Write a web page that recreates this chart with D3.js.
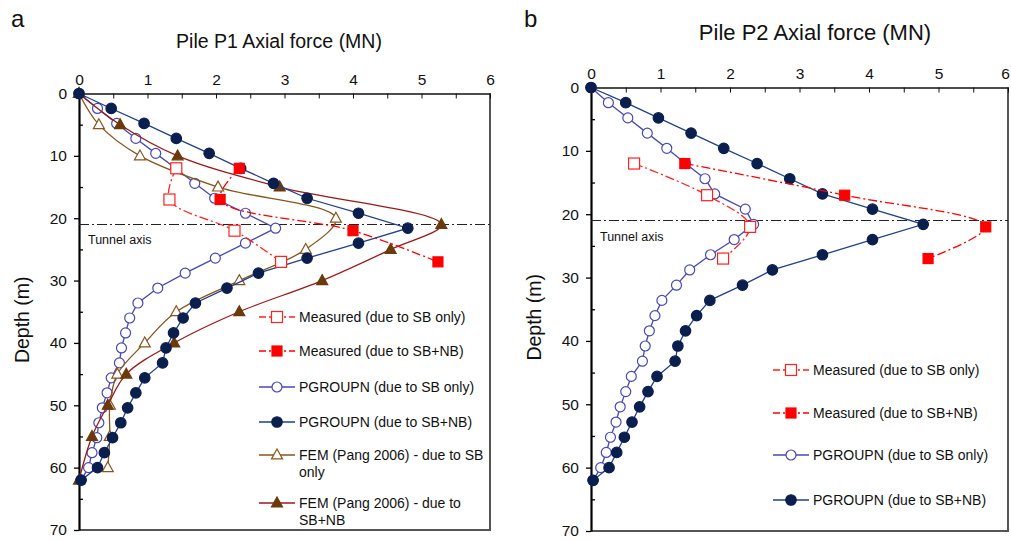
<!DOCTYPE html>
<html>
<head>
<meta charset="utf-8">
<script src="https://cdn.jsdelivr.net/npm/d3@7"></script>
<style>
  body { margin: 0; background: #fff; }
  svg { font-family: "Liberation Sans", Arial, sans-serif; }
  .tick text { font-size: 15.5px; fill: #111; }
</style>
</head>
<body>
<svg id="chart" width="1011" height="541"></svg>
<script>
// PGROUPN nodes (m)
const pgDepth = [0, 2.4, 4.8, 7.2, 9.6, 12, 14.4, 16.8, 19.2, 21.6, 24, 26.4, 28.8, 31.2, 33.6,
  36, 38.4, 40.8, 43.2, 45.6, 48, 50.4, 52.8, 55.2, 57.6, 60, 62];
const measDepth = [12, 17, 22, 27];
const femSbDepth = [0, 5, 10, 15, 20, 25, 30, 35, 40, 45, 50, 55, 60];
const femNbDepth = [0, 5, 10, 15, 21, 25, 30, 35, 40, 45, 50, 55, 62];

// Pile P1
const p1MeasSb = [1.42, 1.32, 2.27, 2.95];
const p1MeasNb = [2.34, 2.06, 4.00, 5.24];
const p1PgSb = [0, 0.27, 0.55, 0.83, 1.12, 1.41, 1.69, 1.98, 2.43, 2.87, 2.43, 1.99, 1.55, 1.15, 0.86,
  0.74, 0.68, 0.62, 0.59, 0.47, 0.41, 0.34, 0.29, 0.26, 0.19, 0.14, 0.03];
const p1PgNb = [0, 0.47, 0.95, 1.42, 1.90, 2.36, 2.84, 3.33, 4.08, 4.80, 4.08, 3.33, 2.62, 2.16, 1.70,
  1.52, 1.38, 1.27, 1.22, 0.96, 0.83, 0.71, 0.61, 0.49, 0.37, 0.27, 0.03];
const p1FemSb = [0, 0.29, 0.89, 2.03, 3.75, 3.31, 2.34, 1.42, 0.96, 0.56, 0.45, 0.45, 0.42];
const p1FemNb = [0, 0.60, 1.44, 2.93, 5.29, 4.55, 3.55, 2.34, 1.39, 0.69, 0.42, 0.19, 0];

// Pile P2
const p2MeasSb = [0.62, 1.67, 2.29, 1.90];
const p2MeasNb = [1.35, 3.65, 5.68, 4.85];
const p2PgSb = [0, 0.25, 0.53, 0.81, 1.09, 1.36, 1.64, 1.78, 2.22, 2.34, 2.06, 1.72, 1.42, 1.23, 1.02,
  0.92, 0.84, 0.78, 0.74, 0.58, 0.50, 0.42, 0.36, 0.28, 0.22, 0.14, 0.03];
const p2PgNb = [0, 0.50, 0.97, 1.44, 1.91, 2.39, 2.86, 3.33, 4.05, 4.78, 4.05, 3.33, 2.61, 2.18, 1.71,
  1.52, 1.36, 1.25, 1.21, 0.95, 0.82, 0.70, 0.59, 0.48, 0.37, 0.26, 0.03];

const yTicks = [0, 10, 20, 30, 40, 50, 60, 70];
const tunnelDepth = 21;

// series styles
const styles = {
  measSb: { color: '#FF2020', marker: 'square', fill: '#fff', size: 11, dash: '9,3,2,3', curve: true },
  measNb: { color: '#FF0000', marker: 'square', fill: '#FF0000', size: 10, dash: '9,3,2,3', curve: true },
  pgSb: { color: '#4848B4', marker: 'circle', fill: '#fff', size: 10, line: '#4848B4' },
  pgNb: { color: '#0B1F4F', marker: 'circle', fill: '#0B1F4F', size: 10.5, line: '#22408A' },
  femSb: { color: '#87561F', marker: 'triangle', fill: '#fff', size: 11, line: '#87561F', curve: true },
  femNb: { color: '#6B3A0C', marker: 'triangle', fill: '#6B3A0C', size: 11, line: '#9A1A1A', curve: true }
};

const svg = d3.select('#chart');

function drawMarker(g, type, st, cx, cy) {
  const s = st.size;
  let m;
  if (type === 'circle') {
    m = g.append('circle').attr('cx', cx).attr('cy', cy).attr('r', s / 2);
  } else if (type === 'square') {
    m = g.append('rect').attr('x', cx - s / 2).attr('y', cy - s / 2).attr('width', s).attr('height', s);
  } else {
    const h = s * 0.9;
    m = g.append('path').attr('d', `M${cx},${cy - h * 0.6}L${cx + s / 2},${cy + h * 0.4}L${cx - s / 2},${cy + h * 0.4}Z`);
  }
  m.attr('fill', st.fill).attr('stroke', st.color).attr('stroke-width', 1.2);
}

function drawPanel(p) {
  const x = d3.scaleLinear().domain([0, 6]).range([p.x0, p.x1]);
  const y = d3.scaleLinear().domain([0, 70]).range([p.y0, p.y1]);

  // right + bottom frame
  svg.append('path')
    .attr('d', `M${p.x0},${p.y1}H${p.x1}V${p.y0}`)
    .attr('fill', 'none').attr('stroke', '#555').attr('stroke-width', 2);

  // top axis
  const top = svg.append('g').attr('transform', `translate(0,${p.y0})`)
    .call(d3.axisTop(x).tickValues(d3.range(0, 6.01, 0.5)).tickSizeInner(-5).tickSizeOuter(0)
      .tickPadding(9).tickFormat(d => Number.isInteger(d) ? d : ''));
  top.select('.domain').attr('stroke', '#111').attr('stroke-width', 1.6);
  top.selectAll('.tick line').attr('stroke', '#111');
  if (p.lastTickShift) {
    top.selectAll('.tick text').filter(d => d === 6).attr('dx', p.lastTickShift);
  }

  // left axis: major outward, minor inward
  const left = svg.append('g').attr('transform', `translate(${p.x0},0)`)
    .call(d3.axisLeft(y).tickValues(yTicks).tickSizeInner(5).tickSizeOuter(0).tickPadding(7));
  left.select('.domain').attr('stroke', '#000').attr('stroke-width', 2.2);
  left.selectAll('.tick line').attr('stroke', '#000').attr('stroke-width', 1.3);
  const minor = svg.append('g').attr('transform', `translate(${p.x0},0)`)
    .call(d3.axisLeft(y).tickValues(d3.range(5, 70, 10)).tickSizeInner(-4).tickSizeOuter(0).tickFormat(''));
  minor.select('.domain').remove();
  minor.selectAll('.tick line').attr('stroke', '#000').attr('stroke-width', 1.3);

  // tunnel axis
  svg.append('line')
    .attr('x1', p.x0).attr('x2', p.x1).attr('y1', y(tunnelDepth)).attr('y2', y(tunnelDepth))
    .attr('stroke', '#222').attr('stroke-width', 1.1).attr('stroke-dasharray', '10,3,2,3');
  svg.append('text').attr('x', p.x0 + 9).attr('y', y(tunnelDepth) + 20)
    .attr('font-size', 12.5).attr('fill', '#111').text('Tunnel axis');

  // series
  p.series.forEach(s => {
    const st = styles[s.key];
    const pts = s.vals.map((v, i) => [x(v), y(s.depth[i])]);
    const line = d3.line().curve(st.curve ? d3.curveCatmullRom.alpha(0.5) : d3.curveLinear);
    svg.append('path').attr('d', line(pts)).attr('fill', 'none')
      .attr('stroke', st.line || st.color).attr('stroke-width', 1.3)
      .attr('stroke-dasharray', st.dash || null);
    const g = svg.append('g');
    pts.forEach(pt => drawMarker(g, st.marker, st, pt[0], pt[1]));
  });

  // legend
  p.legend.forEach(l => {
    const st = styles[l.key];
    svg.append('line').attr('x1', p.lx).attr('x2', p.lx + 36).attr('y1', l.y).attr('y2', l.y)
      .attr('stroke', st.line || st.color).attr('stroke-width', 1.3)
      .attr('stroke-dasharray', st.dash ? '7,3,2,3' : null);
    drawMarker(svg.append('g'), st.marker, st, p.lx + 18, l.y);
    const t = svg.append('text').attr('x', p.lx + 40).attr('y', l.y + 5)
      .attr('font-size', 14).attr('fill', '#111');
    l.text.forEach((line, i) => t.append('tspan').attr('x', p.lx + 40).attr('dy', i ? 16.5 : 0).text(line));
  });

  // titles
  svg.append('text').attr('x', p.titleX).attr('y', p.titleY)
    .attr('text-anchor', 'middle').attr('font-size', p.titleSize).attr('fill', '#111').text(p.title);
  svg.append('text').attr('x', p.letterX).attr('y', 27)
    .attr('font-size', 24).attr('fill', '#111').text(p.letter);
  svg.append('text')
    .attr('transform', `translate(${p.x0 - 50},${(p.y0 + p.y1) / 2 + 8}) rotate(-90)`)
    .attr('text-anchor', 'middle').attr('font-size', 19.5).attr('fill', '#111').text('Depth (m)');
}

drawPanel({
  x0: 79, x1: 490, y0: 93.5, y1: 530,
  title: 'Pile P1 Axial force (MN)', titleX: 279, titleY: 48, titleSize: 19.5, letter: 'a', letterX: 11,
  series: [
    { key: 'pgSb', depth: pgDepth, vals: p1PgSb },
    { key: 'femSb', depth: femSbDepth, vals: p1FemSb },
    { key: 'femNb', depth: femNbDepth, vals: p1FemNb },
    { key: 'pgNb', depth: pgDepth, vals: p1PgNb },
    { key: 'measSb', depth: measDepth, vals: p1MeasSb },
    { key: 'measNb', depth: measDepth, vals: p1MeasNb }
  ],
  lx: 259,
  legend: [
    { key: 'measSb', y: 317, text: ['Measured (due to SB only)'] },
    { key: 'measNb', y: 351, text: ['Measured (due to SB+NB)'] },
    { key: 'pgSb', y: 387, text: ['PGROUPN (due to SB only)'] },
    { key: 'pgNb', y: 422, text: ['PGROUPN (due to SB+NB)'] },
    { key: 'femSb', y: 455, text: ['FEM (Pang 2006) - due to SB', 'only'] },
    { key: 'femNb', y: 503, text: ['FEM (Pang 2006) - due to', 'SB+NB'] }
  ]
});

drawPanel({
  x0: 591, x1: 1008, y0: 87.5, y1: 531,
  title: 'Pile P2 Axial force (MN)', titleX: 815, titleY: 40, titleSize: 22, letter: 'b', letterX: 524,
  lastTickShift: -3,
  series: [
    { key: 'pgSb', depth: pgDepth, vals: p2PgSb },
    { key: 'pgNb', depth: pgDepth, vals: p2PgNb },
    { key: 'measSb', depth: measDepth, vals: p2MeasSb },
    { key: 'measNb', depth: measDepth, vals: p2MeasNb }
  ],
  lx: 773,
  legend: [
    { key: 'measSb', y: 370, text: ['Measured (due to SB only)'] },
    { key: 'measNb', y: 413, text: ['Measured (due to SB+NB)'] },
    { key: 'pgSb', y: 455, text: ['PGROUPN (due to SB only)'] },
    { key: 'pgNb', y: 500, text: ['PGROUPN (due to SB+NB)'] }
  ]
});
</script>
</body>
</html>
